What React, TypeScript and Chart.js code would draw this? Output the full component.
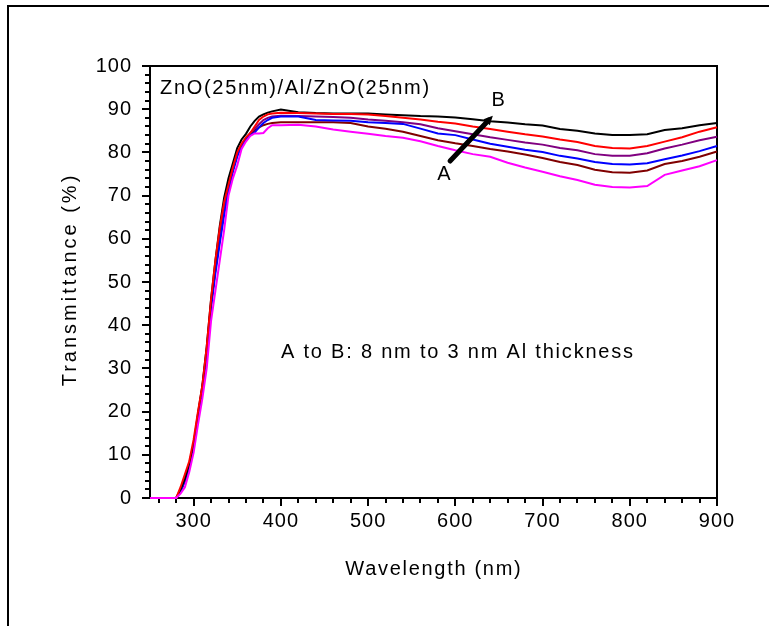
import React, { useEffect, useRef } from "react";
import { Chart, registerables } from "chart.js";

Chart.register(...registerables);

const WAVELENGTHS = [
  250, 280, 285, 290, 295, 300, 305, 310, 315, 320, 325, 330, 335, 340, 345, 350, 355, 360, 365, 370, 375, 380, 385, 390, 400,
  420, 440, 460, 480, 500, 520, 540, 560, 580, 600, 620, 640, 660, 680, 700, 720, 740, 760, 780, 800, 820, 840, 860, 880, 900,
];

const BLACK_3NM = [
  0, 0, 2, 4.5, 8, 12.5, 19.5, 26, 35, 46, 55, 63, 69.5, 74, 77.5, 81, 83, 84.3, 86, 87.3, 88.3, 88.8, 89.2, 89.5, 89.9,
  89.3, 89.1, 89.0, 89.0, 89.0, 88.8, 88.6, 88.4, 88.3, 88.1, 87.7, 87.2, 86.9, 86.5, 86.2, 85.4, 85.0, 84.4, 84.0, 84.0, 84.2, 85.2, 85.6, 86.3, 86.8,
];
const RED = [
  0, 0, 2.5, 5.5, 8.5, 13.5, 20, 26, 35, 46, 55, 62.5, 68.5, 72.5, 76.5, 80, 82, 83.5, 84.5, 86, 87.5, 88.3, 88.8, 89, 89.2,
  89.1, 89.0, 88.9, 88.9, 88.8, 88.4, 88.0, 87.6, 87.1, 86.7, 86.0, 85.4, 84.8, 84.2, 83.7, 83.0, 82.4, 81.5, 81.0, 80.9, 81.5, 82.5, 83.5, 84.8, 85.8,
];
const PURPLE = [
  0, 0, 1.5, 4, 7.5, 12, 19, 25.5, 34, 45, 53, 60, 67, 72, 76, 79.5, 81.5, 83, 84.5, 85.5, 86.5, 87.5, 88, 88.3, 88.5,
  88.4, 88.3, 88.2, 88.0, 87.6, 87.3, 87.0, 86.5, 85.6, 84.9, 84.2, 83.5, 82.9, 82.3, 81.8, 81.0, 80.5, 79.6, 79.2, 79.2, 79.8, 80.9, 81.8, 82.8, 83.6,
];
const BLUE = [
  0, 0, 1.5, 4, 7.5, 12, 18.5, 25, 33, 44, 52, 59, 65.5, 71, 75.5, 79, 81.5, 83, 84, 84.6, 85.8, 86.8, 87.5, 88, 88.3,
  88.3, 87.5, 87.4, 87.3, 87.0, 86.8, 86.6, 85.5, 84.4, 84.0, 83.0, 82.0, 81.3, 80.6, 80.1, 79.2, 78.6, 77.8, 77.3, 77.2, 77.5, 78.4, 79.3, 80.3, 81.5,
];
const BROWN = [
  0, 0, 1.5, 4, 7.5, 12, 19, 25.5, 34, 45, 53, 60, 66.5, 72, 76, 79.5, 81.5, 83, 84, 85, 85.8, 86.3, 86.6, 86.8, 87,
  87.0, 87.0, 87.0, 86.8, 86.0, 85.5, 84.8, 83.8, 82.8, 82.1, 81.5, 80.8, 80.2, 79.5, 78.7, 77.8, 77.1, 76.0, 75.4, 75.3, 75.8, 77.3, 78.0, 79.0, 80.2,
];
const MAGENTA_8NM = [
  0, 0, 1, 2.5, 6, 10.5, 17, 23, 30, 41, 48, 55, 62, 70, 74, 77, 80.8, 82.5, 83.8, 84.4, 84.4, 84.5, 85.6, 86.3, 86.3,
  86.4, 86.0, 85.3, 84.8, 84.3, 83.8, 83.4, 82.6, 81.5, 80.5, 79.6, 79.0, 77.6, 76.5, 75.5, 74.5, 73.6, 72.5, 72.0, 71.9, 72.2, 74.8, 75.8, 76.8, 78.2,
];

// listed top-most first (first dataset is drawn on top)
const SERIES = [
  { name: "8 nm", color: "#ff00ff", values: MAGENTA_8NM },
  { name: "4 nm", color: "#ff0000", values: RED },
  { name: "3 nm", color: "#000000", values: BLACK_3NM },
  { name: "6 nm", color: "#0000ff", values: BLUE },
  { name: "5 nm", color: "#800080", values: PURPLE },
  { name: "7 nm", color: "#800000", values: BROWN },
];

const X_MAJOR_TICKS = [300, 400, 500, 600, 700, 800, 900];
const Y_MAJOR_TICKS = [0, 10, 20, 30, 40, 50, 60, 70, 80, 90, 100];

const FONT = "'Liberation Sans', Arial, sans-serif";

function spacedText(ctx: any, text: string, x: number, y: number, spacing: number, align: string) {
  ctx.letterSpacing = `${spacing}px`;
  const w = ctx.measureText(text).width;
  ctx.textAlign = "left";
  const start = align === "center" ? x - (w - spacing) / 2 : x;
  ctx.fillText(text, start, y);
  ctx.letterSpacing = "0px";
}

const decorPlugin = {
  id: "decor",
  beforeDraw(chart: any) {
    chart.ctx.letterSpacing = "1px";
  },
  beforeDatasetsDraw(chart: any) {
    const { ctx, chartArea, scales } = chart;
    const xs = scales.x;
    const ys = scales.y;
    ctx.save();
    ctx.strokeStyle = "#000";
    ctx.lineWidth = 2;
    ctx.beginPath();
    ctx.moveTo(8, 626);
    ctx.lineTo(8, 6);
    ctx.lineTo(769, 6);
    ctx.stroke();
    ctx.strokeRect(chartArea.left, chartArea.top, chartArea.right - chartArea.left, chartArea.bottom - chartArea.top);
    for (let v = 260; v <= 900; v += 20) {
      const px = Math.round(xs.getPixelForValue(v));
      const len = v % 100 === 0 ? 8 : 5;
      ctx.beginPath();
      ctx.moveTo(px, chartArea.bottom);
      ctx.lineTo(px, chartArea.bottom + len);
      ctx.stroke();
    }
    for (let v = 0; v <= 100; v += 2) {
      const py = Math.round(ys.getPixelForValue(v));
      const len = v % 10 === 0 ? 8 : 5;
      ctx.beginPath();
      ctx.moveTo(chartArea.left, py);
      ctx.lineTo(chartArea.left - len, py);
      ctx.stroke();
    }
    ctx.restore();
  },
  afterDraw(chart: any) {
    const { ctx, scales } = chart;
    const xs = scales.x;
    const ys = scales.y;
    ctx.save();
    ctx.fillStyle = "#000";
    ctx.font = `20px ${FONT}`;
    ctx.textBaseline = "middle";
    spacedText(ctx, "ZnO(25nm)/Al/ZnO(25nm)", 160, 88, 1.7, "left");
    spacedText(ctx, "A to B: 8 nm to 3 nm Al thickness", 457, 352, 1.8, "center");
    spacedText(ctx, "Wavelength (nm)", 433, 569, 1.7, "center");
    ctx.save();
    ctx.translate(70, 281);
    ctx.rotate(-Math.PI / 2);
    spacedText(ctx, "Transmittance (%)", 0, 0, 3, "center");
    ctx.restore();
    // arrow A -> B
    const ax = xs.getPixelForValue(594);
    const ay = ys.getPixelForValue(78);
    const bx = xs.getPixelForValue(643);
    const by = ys.getPixelForValue(88.5);
    ctx.strokeStyle = "#000";
    ctx.lineWidth = 5;
    ctx.lineCap = "round";
    ctx.beginPath();
    ctx.moveTo(ax, ay);
    ctx.lineTo(bx - (bx - ax) * 0.1, by - (by - ay) * 0.1);
    ctx.stroke();
    const ang = Math.atan2(by - ay, bx - ax);
    ctx.beginPath();
    ctx.moveTo(bx, by);
    ctx.lineTo(bx - 10 * Math.cos(ang - 0.45), by - 10 * Math.sin(ang - 0.45));
    ctx.lineTo(bx - 10 * Math.cos(ang + 0.45), by - 10 * Math.sin(ang + 0.45));
    ctx.closePath();
    ctx.fill();
    ctx.textAlign = "center";
    ctx.fillText("A", xs.getPixelForValue(587), ys.getPixelForValue(75));
    ctx.fillText("B", xs.getPixelForValue(649), ys.getPixelForValue(92.1));
    ctx.restore();
    ctx.letterSpacing = "0px";
  },
};

export default function App() {
  const ref = useRef<HTMLCanvasElement | null>(null);
  useEffect(() => {
    if (!ref.current) return;
    const chart = new Chart(ref.current, {
      type: "line",
      data: {
        datasets: SERIES.map((s) => ({
          label: s.name,
          data: WAVELENGTHS.map((w, i) => ({ x: w, y: s.values[i] })),
          borderColor: s.color,
          backgroundColor: s.color,
          borderWidth: 2,
          pointRadius: 0,
          tension: 0,
          fill: false,
          clip: 3,
        })),
      },
      options: {
        animation: false,
        responsive: false,
        devicePixelRatio: 1,
        layout: { padding: { left: 0, top: 66, right: 52, bottom: 0 } },
        plugins: { legend: { display: false }, tooltip: { enabled: false } },
        scales: {
          x: {
            type: "linear",
            min: 250,
            max: 900,
            afterFit: (s: any) => {
              s.height = 128;
            },
            afterBuildTicks: (s: any) => {
              s.ticks = X_MAJOR_TICKS.map((v) => ({ value: v }));
            },
            grid: { display: true, drawOnChartArea: false, color: "rgba(0,0,0,0)", tickLength: 8 },
            border: { display: false },
            ticks: {
              color: "#000",
              font: { family: FONT, size: 20 },
              padding: 3,
              maxRotation: 0,
              autoSkip: false,
            },
          },
          y: {
            type: "linear",
            min: 0,
            max: 100,
            afterFit: (s: any) => {
              s.width = 150;
            },
            afterBuildTicks: (s: any) => {
              s.ticks = Y_MAJOR_TICKS.map((v) => ({ value: v }));
            },
            grid: { display: true, drawOnChartArea: false, color: "rgba(0,0,0,0)", tickLength: 8 },
            border: { display: false },
            ticks: {
              color: "#000",
              font: { family: FONT, size: 20 },
              padding: 10,
              autoSkip: false,
            },
          },
        },
      },
      plugins: [decorPlugin],
    });
    return () => chart.destroy();
  }, []);
  return (
    <div style={{ position: "absolute", left: 0, top: 0, width: 769, height: 626, background: "#fff" }}>
      <canvas ref={ref} width={769} height={626} style={{ width: 769, height: 626, display: "block" }} />
    </div>
  );
}
